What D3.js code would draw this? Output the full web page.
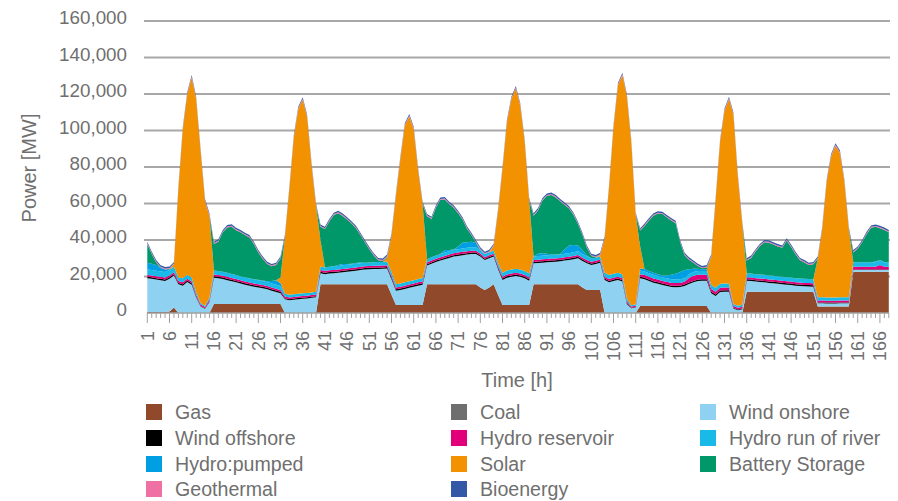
<!DOCTYPE html>
<html><head><meta charset="utf-8">
<script src="https://cdn.jsdelivr.net/npm/d3@7/dist/d3.min.js"></script>
<style>
body{margin:0;background:#fff;}
svg text{font-family:"Liberation Sans", Arial, sans-serif;fill:#6f6f6f;}
</style></head><body>
<svg id="chart" width="898" height="501"></svg>
<script>
// ---------- DATA (MW per hour, hours 1..168) ----------
const hours = d3.range(1, 169);
const yTickValues = [0, 20000, 40000, 60000, 80000, 100000, 120000, 140000, 160000];
const xTickLabels = [1,6,11,16,21,26,31,36,41,46,51,56,61,66,71,76,81,86,91,96,101,106,111,116,121,126,131,136,141,146,151,156,161,166];
const seriesNames = ["Gas","Coal","Wind onshore","Wind offshore","Hydro reservoir","Hydro run of river","Hydro:pumped","Solar","Battery Storage","Geothermal","Bioenergy"];

const gas = [500,500,500,500,500,800,3000,
0,0,0,0,0,0,0,0,
4900,4900,4900,4900,4900,4900,4900,4900,4900,4900,4900,4900,4900,4900,4900,4900,
0,0,0,0,0,0,0,0,
15700,15700,15700,15700,15700,15700,15700,15700,15700,15700,15700,15700,15700,15700,15700,15700,
10000,
4400,4400,4400,4400,4400,4400,4400,
15700,15700,15700,15700,15700,15700,15700,15700,15700,15700,15700,15700,
14000,12600,14000,15700,
10000,
4400,4400,4400,4400,4400,4400,4400,
15700,15700,15700,15700,15700,15700,15700,15700,15700,15700,15700,
14000,12600,12600,12600,12600,
0,0,0,0,0,0,0,0,
3800,3800,3800,3800,3800,3800,3800,3800,3800,3800,3800,3800,3800,3800,3800,3800,
0,0,0,0,0,0,0,0,
11700,11700,11700,11700,11700,11700,11700,11700,11700,11700,11700,11700,11700,11700,11700,11700,
3500,3500,3500,3500,3500,3500,3500,3500,
22600,22600,22600,22600,22600,22600,22600,22600,22600];

const coal = [0,0,0,0,0,0,0,0,0,0,0,0,0,0,0,0,0,0,0,0,0,0,0,0,
0,0,0,0,0,0,0,0,0,0,0,0,0,0,0,0,0,0,0,0,0,0,0,0,
0,0,0,0,0,0,0,0,0,0,0,0,0,0,0,0,0,0,0,0,0,0,0,0,
0,0,0,0,0,0,0,0,0,0,0,0,0,0,0,0,0,0,0,0,0,0,0,0,
0,0,0,0,0,0,0,0,0,0,0,0,0,0,0,0,0,0,0,0,0,0,0,0,
0,0,0,0,0,0,0,0,0,0,0,0,0,0,0,0,0,0,0,0,0,0,0,0,
0,0,0,0,0,0,0,0,0,0,0,0,0,0,0,0,0,0,0,0,0,0,0,0];

const windOnshore = [18500,18300,17800,17500,17100,18000,17500,
15700,15000,17000,15500,8500,3500,2300,6000,
14400,14100,13700,13100,12500,11900,11300,10600,10000,9500,9100,8700,8100,7300,6600,5900,
7500,7000,7300,7600,7800,8000,8300,8600,
6100,5600,5900,6100,6300,6600,6900,7200,7500,7800,8100,8300,8400,8400,8500,8700,
8500,7800,8200,8800,9400,10000,10600,11100,
10300,11300,12300,13100,13800,14500,15200,15600,16000,16300,16600,16600,
17000,16400,16000,15200,
14000,13700,14900,15400,15900,15400,14600,13300,
11500,11700,11900,12100,12300,12400,12700,13000,13300,13800,14300,
14500,14600,13700,14200,14900,
18100,16800,17500,18100,17200,5000,2600,3000,
15200,14700,13700,12800,12200,11500,11000,10400,10300,10400,11000,12100,13000,13700,13900,13900,
10800,9300,11500,11700,11700,2500,1500,2000,
6000,5800,5500,5300,5100,4800,4600,4300,4100,3800,3600,3300,3100,2900,2800,2700,
1800,1800,1700,1700,1700,1800,1800,1800,
1000,1000,1000,1000,1000,1000,1000,1000,1000];

const windOffshore = [800,800,800,800,800,800,800,800,800,800,800,
600,400,300,500,
800,800,800,800,800,800,800,800,800,800,800,800,800,800,800,800,
600,600,600,600,600,600,600,600,
800,800,800,800,800,800,800,800,800,800,800,800,800,800,800,800,800,800,800,800,800,800,800,800,
700,700,700,700,
800,800,800,800,800,800,800,800,
700,700,700,700,
800,800,800,800,800,800,800,800,800,800,800,800,800,800,800,800,800,800,800,800,800,800,800,800,800,800,800,800,800,
600,300,300,
800,800,800,800,800,800,800,800,800,800,800,800,800,800,800,800,800,800,800,800,800,
400,400,400,
800,800,800,800,800,800,800,800,800,800,800,800,800,800,800,800,
500,500,500,500,500,500,500,500,
300,300,300,300,300,300,300,300,300];

const hydroReservoir = [1000,1000,1000,1000,1000,1000,1000,1000,1000,1000,1000,
900,800,700,900,
1000,1000,1000,1000,1000,1000,1000,1000,1000,1000,1000,1000,1000,1000,1000,1000,
900,900,900,900,900,900,900,900,
1000,1000,1000,1000,1000,1000,1000,1000,1000,1000,1000,1000,1000,1000,1000,1000,1000,1000,1000,1000,1000,1000,1000,1000,1000,1000,1000,1000,1000,1000,1000,1000,1000,1000,1000,1000,
900,900,900,900,
1000,1000,1000,1000,1000,1000,1000,1000,1000,1000,1000,1000,1000,1000,1000,1000,1000,1000,1000,1000,1000,1000,1000,1000,1000,1000,1000,1000,1000,
900,700,700,
1500,1500,1500,1500,1500,1500,1500,1500,1500,1500,1500,
2500,2800,2700,2500,2500,
1500,1500,1500,1500,1500,
1000,1000,1000,
1100,1100,1100,1100,1100,1100,1100,1100,1100,1100,1100,1100,1100,1100,1100,1100,
1000,1000,1000,1000,1000,1000,1000,1000,
1400,1400,1400,1400,1400,1400,2400,1400,1400];

const hydroRunOfRiver = [3000,3000,3000,3000,3000,3000,3000,
2000,2200,2200,2200,1500,800,700,1100,
2200,2200,2200,2200,2200,2200,2200,2200,2200,2200,2200,2200,2200,2200,2200,2200,
1500,1500,1500,1500,1500,1500,1500,1500,
1900,1900,1900,2000,2000,2000,2000,2000,2000,2000,2000,1900,1900,2000,2000,2000,
2200,1800,1800,1800,1800,1800,1800,1900,
1800,1800,1800,1800,
1900,1900,1900,1900,1900,1900,1900,1900,
1700,1700,1700,1700,
1800,2200,2200,2200,2200,2200,2200,2200,
2000,2000,2000,2000,2000,2000,2000,2000,2000,2000,2000,2000,2000,
1900,1700,1700,
2100,2200,2200,2200,2200,1500,700,800,
2000,2000,2000,2000,2000,2000,2000,2000,2000,2000,2000,2000,2000,2000,2000,2000,
2200,2200,2200,2200,2200,
1100,1100,1100,
2200,2200,2200,2200,2200,2200,2200,2200,2200,2200,2200,2200,2200,2200,2200,2200,
1800,1800,1800,1800,1800,1800,1800,1800,
2500,2500,2500,2500,2500,2500,2500,2500,2500];

const hydroPumped = [3800,3400,3200,1800,1400,200,0,
0,0,0,0,0,0,0,0,0,0,0,0,0,0,0,
100,100,100,200,200,400,1300,2500,1700,
0,0,0,0,0,0,0,0,0,0,0,0,
500,700,400,300,400,500,
0,0,0,0,0,0,0,0,0,0,0,0,0,0,0,0,0,0,
1300,600,200,1500,3100,3100,3000,2300,
0,0,0,0,0,0,0,0,0,0,0,0,0,
1300,1300,900,200,100,100,2500,4200,4000,3200,2200,500,
0,0,0,0,0,0,0,0,0,0,0,
1200,1200,1200,1100,900,900,1400,2500,3100,4000,4400,2800,1900,1200,1000,1000,
0,0,0,0,0,0,0,0,0,0,0,0,0,0,0,0,0,0,0,0,0,0,0,0,0,0,0,0,0,0,0,0,0,0,0,0,0,
400,200,200,0];

const solar = [0,0,0,0,0,0,
1400,48200,81700,98700,109600,105700,83200,57200,44800,
0,0,0,0,0,0,0,0,0,0,0,0,0,0,0,
3000,31200,57900,85900,101100,106100,96200,69400,47100,14500,
0,0,0,0,0,0,0,0,0,0,0,0,0,0,
2000,19900,48500,68200,85900,90300,82700,59400,40500,
0,0,0,0,0,0,0,0,0,0,0,0,0,0,0,
2500,28100,56800,81200,93400,98800,89900,70500,40000,
0,0,0,0,0,0,0,0,0,0,0,0,0,0,0,
700,18700,47900,80200,102600,109200,110700,89400,48900,12000,
0,0,0,0,0,0,0,0,0,0,0,0,0,0,0,
15400,47900,77700,94500,101000,103700,70700,44200,
0,0,0,0,0,0,0,0,0,0,0,0,0,0,0,0,
21100,37100,63200,77200,83200,79100,63100,37100,
0,0,0,0,0,0,0,0,0];

const batteryStorage = [10200,5300,1400,300,100,400,0,
0,0,0,0,0,0,0,0,
14500,16100,21600,24900,25900,24600,24000,23100,22400,19300,15000,11800,9400,8100,8300,10200,
0,0,0,0,0,0,0,0,
7200,21000,24900,28100,28400,26400,24400,22000,19100,14900,11100,7200,3700,1000,500,500,
0,0,0,0,0,0,0,0,
23500,21000,26200,29700,27700,25200,22900,18200,12700,7400,3700,400,400,0,0,0,
0,0,0,0,0,0,0,0,
22300,23700,29000,31700,32700,31300,28900,24200,20200,16400,11700,8200,4200,1200,200,0,
0,0,0,0,0,0,0,0,
8700,23700,27700,31300,33300,33700,31900,29700,27700,16200,8200,5200,3200,1500,500,1000,
0,0,0,0,0,0,0,0,
6900,8600,12400,15600,17800,17900,17100,16400,15800,20000,16800,13100,10000,9000,7700,8200,
0,0,0,0,0,0,0,0,
5400,7400,10900,15400,18900,19000,17500,17500,16400];

const geothermal = [500,500,500,500,500,500,500,500,500,500,500,500,500,500,500,500,500,500,500,500,500,500,500,500,
500,500,500,500,500,500,500,500,500,500,500,500,500,500,500,500,500,500,500,500,500,500,500,500,
500,500,500,500,500,500,500,500,500,500,500,500,500,500,500,500,500,500,500,500,500,500,500,500,
500,500,500,500,500,500,500,500,500,500,500,500,500,500,500,500,500,500,500,500,500,500,500,500,
500,500,500,500,500,500,500,500,500,500,500,500,500,500,500,500,500,500,500,500,500,500,500,500,
500,500,500,500,500,500,500,500,500,500,500,500,500,500,500,500,500,500,500,500,500,500,500,500,
500,500,500,500,500,500,500,500,500,500,500,500,500,500,500,500,500,500,500,500,500,500,500,500];

const bioenergy = [800,800,800,800,800,800,800,800,800,800,800,800,800,800,800,800,800,800,800,800,800,800,800,800,
800,800,800,800,800,800,800,800,800,800,800,800,800,800,800,800,800,800,800,800,800,800,800,800,
800,800,800,800,800,800,800,800,800,800,800,800,800,800,800,800,800,800,800,800,800,800,800,800,
800,800,800,800,800,800,800,800,800,800,800,800,800,800,800,800,800,800,800,800,800,800,800,800,
800,800,800,800,800,800,800,800,800,800,800,800,800,800,800,800,800,800,800,800,800,800,800,800,
800,800,800,800,800,800,800,800,800,800,800,800,800,800,800,800,800,800,800,800,800,800,800,800,
800,800,800,800,800,800,800,800,800,800,800,800,800,800,800,800,800,800,800,800,800,800,800,800];

const seriesColors = ["#904a2b","#6f6f6f","#8fd1f0","#000000","#e2007a","#19b9e8","#009fe3","#f39200","#009869","#ef71a4","#3359a6"];

// ---------- BUILD ----------
const seriesData = [gas, coal, windOnshore, windOffshore, hydroReservoir, hydroRunOfRiver, hydroPumped, solar, batteryStorage, geothermal, bioenergy];
seriesData.forEach((s, i) => { if (s.length !== 168) throw new Error(seriesNames[i] + " length " + s.length); });

const rows = hours.map((h, i) => {
  const r = { hour: h };
  seriesNames.forEach((k, j) => r[k] = seriesData[j][i]);
  return r;
});
const stacked = d3.stack().keys(seriesNames)(rows);

const svg = d3.select("#chart");
const x = d3.scaleLinear().domain([1, 168]).range([147.3, 888.8]);
const y = d3.scaleLinear().domain([0, 160000]).range([313, 21]);

// gridlines
svg.append("g").selectAll("line").data(yTickValues.filter(v => v > 0)).join("line")
  .attr("x1", 144).attr("x2", 890)
  .attr("y1", d => y(d)).attr("y2", d => y(d))
  .attr("stroke", "#a8a8a8").attr("stroke-width", 2);

// y labels
svg.append("g").selectAll("text").data(yTickValues).join("text")
  .attr("x", 127).attr("y", d => y(d) - 3.5).attr("dy", "0.35em")
  .attr("text-anchor", "end").attr("font-size", 18.8)
  .text(d => d3.format(",")(d));

// areas
const area = d3.area().x(d => x(d.data.hour)).y0(d => y(d[0])).y1(d => y(d[1]));
svg.append("g").selectAll("path").data(stacked).join("path")
  .attr("d", area).attr("fill", (d, i) => seriesColors[i]);

// x axis line & ticks
const ax = svg.append("g");
ax.append("line").attr("x1", x(1)).attr("x2", x(168)).attr("y1", 313).attr("y2", 313)
  .attr("stroke", "#a0a0a0").attr("stroke-width", 1.5);
ax.selectAll("line.minor").data(hours).join("line").attr("class", "minor")
  .attr("x1", d => x(d)).attr("x2", d => x(d))
  .attr("y1", 313).attr("y2", d => xTickLabels.includes(d) ? 323 : 318)
  .attr("stroke", "#a0a0a0").attr("stroke-width", 1);
ax.selectAll("text").data(xTickLabels).join("text")
  .attr("transform", d => `translate(${x(d)},331) rotate(-90)`)
  .attr("text-anchor", "end").attr("dy", "0.35em").attr("font-size", 18)
  .text(d => d);

// axis titles
svg.append("text").attr("x", 517).attr("y", 387).attr("text-anchor", "middle")
  .attr("font-size", 20).text("Time [h]");
svg.append("text").attr("transform", "translate(36,168) rotate(-90)")
  .attr("text-anchor", "middle").attr("font-size", 20).text("Power [MW]");

// legend
const legCols = [146, 451, 700];
const legRows = [412, 438, 464, 489];
const leg = svg.append("g").selectAll("g").data(seriesNames).join("g")
  .attr("transform", (d, i) => `translate(${legCols[i % 3]},${legRows[Math.floor(i / 3)]})`);
leg.append("rect").attr("x", 0).attr("y", -8).attr("width", 16).attr("height", 16)
  .attr("fill", (d, i) => seriesColors[i]);
leg.append("text").attr("x", 29).attr("dy", "0.35em").attr("font-size", 19.6).text(d => d);
</script>
</body></html>
